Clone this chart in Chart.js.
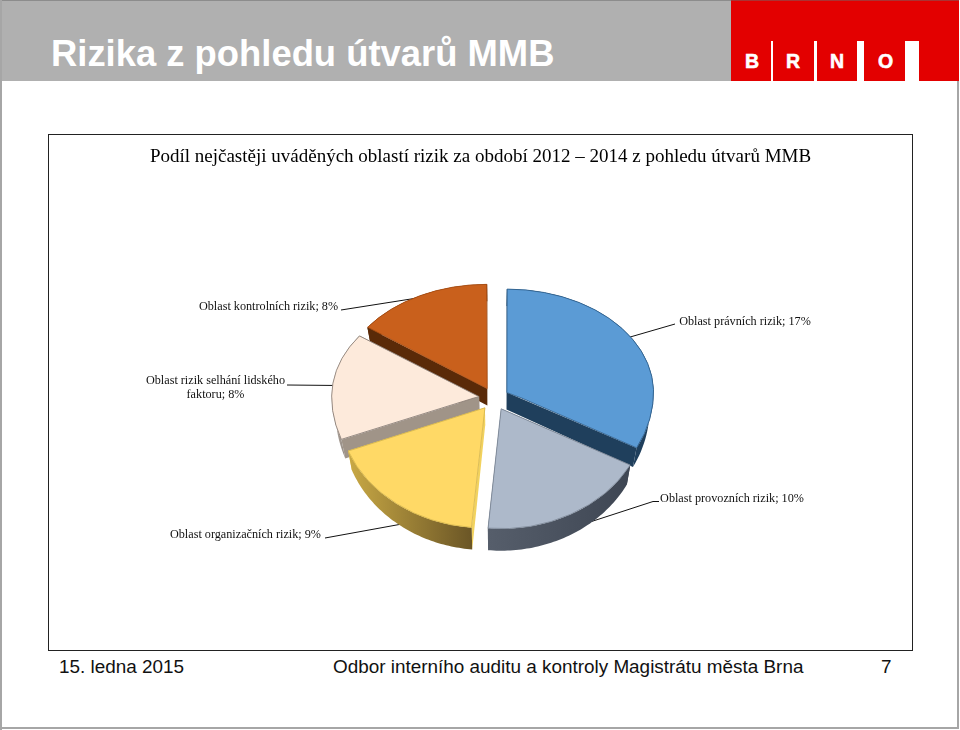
<!DOCTYPE html>
<html lang="cs">
<head>
<meta charset="utf-8">
<title>Rizika z pohledu útvarů MMB</title>
<script src="https://cdn.jsdelivr.net/npm/chart.js@4"></script>
<style>
    html, body { margin: 0; padding: 0; background: #fff; }
    #stranka { position: relative; width: 960px; height: 730px; overflow: hidden; background: #fff; }
    #stranka div { position: absolute; }
    #ramP { left: 0; top: 0; width: 2px; height: 730px; background: #a6a6a6; }
    #ramD { left: 0; top: 727px; width: 959px; height: 2px; background: #a6a6a6; }
    #ramK { left: 957px; top: 81px; width: 2px; height: 648px; background: #a6a6a6; }
    #hlavicka { left: 0; top: 0; width: 731px; height: 81px; background: #b0b0b0; border-top: 1px solid #8c8c8c; box-sizing: border-box; }
    #nadpis { left: 51px; top: 33px; font: bold 36.4px "Liberation Sans", Arial, sans-serif; color: #fff; white-space: nowrap; }
    #logo { left: 731px; top: 0; width: 228px; height: 81px; background: #e30000; border-top: 1px solid #a33; box-sizing: border-box; }
    .pruh { background: #fff; top: 41px; height: 40px; }
    .pismeno { top: 50px; font: bold 19.5px "Liberation Sans", Arial, sans-serif; color: #fff; -webkit-text-stroke: 0.6px #fff; }
    #ramec { left: 48px; top: 134px; width: 863px; height: 515px; border: 1px solid #222; }
    canvas { display: block; }
    .pata { top: 656px; font: 18.9px "Liberation Sans", Arial, sans-serif; color: #111; white-space: nowrap; }
</style>
</head>
<body>
<div id="stranka">
    <div id="hlavicka"></div>
    <div id="nadpis">Rizika z pohledu útvarů MMB</div>
    <div id="logo"></div>
    <div class="pruh" style="left:771px;width:2px"></div>
    <div class="pruh" style="left:814px;width:3px"></div>
    <div class="pruh" style="left:857px;width:7px"></div>
    <div class="pruh" style="left:905px;width:14px"></div>
    <div class="pismeno" style="left:745px">B</div>
    <div class="pismeno" style="left:786px">R</div>
    <div class="pismeno" style="left:830px">N</div>
    <div class="pismeno" style="left:878px">O</div>
    <div id="ramec"><canvas id="graf" width="863" height="515"></canvas></div>
    <div class="pata" style="left:59px">15. ledna 2015</div>
    <div class="pata" style="left:333px">Odbor interního auditu a kontroly Magistrátu města Brna</div>
    <div class="pata" style="left:881px">7</div>
    <div id="ramP"></div>
    <div id="ramK"></div>
    <div id="ramD"></div>
</div>
<script>
// --- Data grafu ---
const kategorie = [
    'Oblast právních rizik',
    'Oblast provozních rizik',
    'Oblast organizačních rizik',
    'Oblast rizik selhání lidského faktoru',
    'Oblast kontrolních rizik'
];
// odečteno z úhlů výsečí, popisky v originále ukazují zaokrouhlené hodnoty
const hodnoty = [17, 9.7, 9.2, 8.2, 7.8];
const titulek = 'Podíl nejčastěji uváděných oblastí rizik za období 2012 – 2014 z pohledu útvarů MMB';

// --- Barvy ---
const barvyVrch = ['#5b9bd5', '#adb9ca', '#ffd966', '#fdeadb', '#c9601c'];
const barvyOkraj = ['#2e5f8c', '#7f8a99', '#d8b850', '#8c8078', '#a84c12'];
const barvyRez = ['#1f3f5c', '#3f4855', '#f2d25e', '#a09488', '#5a2a08'];
const barvyPlastL = ['#1f3f5c', '#565e6b', '#c9a945', '#b8aea6', '#5a2a08'];
const barvyPlastP = ['#1f3f5c', '#3e4653', '#6b5626', '#6a625a', '#5a2a08'];

// --- Prostorový vzhled (koláč je vykreslen se sklonem) ---
const poradiKresleni = [4, 3, 0, 2, 1]; // zezadu dopředu
const sklonVzadu = 0.705;
const sklonVpredu = 0.82;
const sbihani = 0.975; // spodní hrana se v perspektivě zužuje
const posunX = 13.5; // titulek zůstává na středu rámečku
const ramecX = 49;
const ramecY = 135;

// --- Popisky: [index, střed x, y řádků, zalomení] v souřadnicích stránky ---
const popisky = [
    { i: 4, x: 268.5, y: [307] },
    { i: 0, x: 745, y: [322] },
    { i: 3, x: 215.5, y: [381, 395], zlom: 'Oblast rizik selhání lidského' },
    { i: 1, x: 732, y: [499] },
    { i: 2, x: 245.5, y: [535] }
];
// vodicí čáry končí pod koláčem, kreslí se před ním
const vodici = [
    [[341, 310], [430, 296]],
    [[625, 338.5], [675, 324]],
    [[287, 385], [340, 385.5]],
    [[659, 501.5], [653, 501.5], [590, 522]],
    [[325, 538], [402, 524]]
];

/**
 * Přepočet y z roviny koláče na obrazovku (zadní půlka je víc stlačená).
 */
function naObrazovku(y, stredY) {
    return stredY + (y - stredY) * (y < stredY ? sklonVzadu : sklonVpredu);
}

/**
 * Vykreslí boční stěny jednoho výseče podle úhlů z elementu Chart.js.
 */
function kresliStenu(ctx, arc, i) {
    const p = arc.getProps(['x', 'y', 'startAngle', 'endAngle', 'outerRadius', 'circumference']);
    const posun = (arc.options.offset || 0) / 4;
    const pul = (p.startAngle + p.endAngle) / 2;
    const cx = p.x + Math.cos(pul) * posun;
    const cy = p.y + Math.sin(pul) * posun;
    const r = p.outerRadius + posun * (1 - Math.sin(Math.min(Math.PI, p.circumference)));
    const osaX = p.x + posunX;
    const bod = (a) => [
        cx + r * Math.cos(a) + posunX,
        naObrazovku(cy + r * Math.sin(a), p.y)
    ];
    // spodní obrys: dopředu víc výšky, ke středu se zužuje
    const dole = (b) => [
        osaX + (b[0] - osaX) * sbihani,
        b[1] + 17 + Math.max(0, b[1] - p.y + 5) * 0.037
    ];
    const stred = [cx + posunX, naObrazovku(cy, p.y)];

    // radiální stěny
    ctx.fillStyle = barvyRez[i];
    [p.startAngle, p.endAngle].forEach(a => {
        const b = bod(a);
        const b2 = dole(b);
        const s2 = dole(stred);
        ctx.beginPath();
        ctx.moveTo(stred[0], stred[1]);
        ctx.lineTo(b[0], b[1]);
        ctx.lineTo(b2[0], b2[1]);
        ctx.lineTo(s2[0], s2[1]);
        ctx.closePath();
        ctx.fill();
    });

    // vnější plášť
    const body = [];
    const kroku = 60;
    for (let k = 0; k <= kroku; k++) {
        body.push(bod(p.startAngle + (p.endAngle - p.startAngle) * k / kroku));
    }
    const xs = body.map(b => b[0]);
    const gradient = ctx.createLinearGradient(Math.min(...xs), 0, Math.max(...xs), 0);
    gradient.addColorStop(0, barvyPlastL[i]);
    gradient.addColorStop(1, barvyPlastP[i]);
    ctx.fillStyle = gradient;
    ctx.beginPath();
    body.forEach((b, k) => k ? ctx.lineTo(b[0], b[1]) : ctx.moveTo(b[0], b[1]));
    body.slice().reverse().forEach(b => {
        const d = dole(b);
        ctx.lineTo(d[0], d[1]);
    });
    ctx.closePath();
    ctx.fill();
}

/**
 * Vykreslí horní plochu výseče: zadní a přední půlku zvlášť.
 */
function kresliVrch(ctx, chart, arc) {
    const yc = arc.y;
    [[0, yc, sklonVzadu], [yc, chart.height - yc, sklonVpredu]].forEach(([top, vyska, sklon]) => {
        ctx.save();
        ctx.beginPath();
        ctx.rect(0, top, chart.width, vyska);
        ctx.clip();
        ctx.translate(posunX, yc);
        ctx.scale(1, sklon);
        ctx.translate(0, -yc);
        arc.draw(ctx);
        ctx.restore();
    });
}

/**
 * Vodicí čáry od popisků k výsečím.
 */
function kresliVodici(ctx) {
    ctx.save();
    ctx.strokeStyle = '#111';
    ctx.lineWidth = 1;
    vodici.forEach(cara => {
        ctx.beginPath();
        cara.forEach((b, k) => {
            const x = b[0] - ramecX, y = b[1] - ramecY;
            k ? ctx.lineTo(x, y) : ctx.moveTo(x, y);
        });
        ctx.stroke();
    });
    ctx.restore();
}

const kolac3D = {
    id: 'kolac3D',
    beforeDatasetsDraw(chart) {
        const ctx = chart.ctx;
        const oblouky = chart.getDatasetMeta(0).data;
        kresliVodici(ctx);
        poradiKresleni.forEach(i => {
            kresliStenu(ctx, oblouky[i], i);
            kresliVrch(ctx, chart, oblouky[i]);
        });
        return false; // výchozí kreslení se přeskočí, pořadí je vlastní
    },
    afterDraw(chart) {
        const ctx = chart.ctx;
        ctx.save();
        ctx.fillStyle = '#111';
        ctx.font = '12.2px "Liberation Serif", "Times New Roman", serif';
        ctx.textAlign = 'center';
        ctx.textBaseline = 'middle';
        popisky.forEach(p => {
            const text = `${kategorie[p.i]}; ${Math.round(hodnoty[p.i])}%`;
            const radky = p.zlom ? [p.zlom, text.slice(p.zlom.length + 1)] : [text];
            radky.forEach((r, k) => ctx.fillText(r, p.x - ramecX, p.y[k] - ramecY));
        });
        ctx.restore();
    }
};

document.addEventListener('DOMContentLoaded', () => {
    new Chart(document.getElementById('graf'), {
        type: 'pie',
        data: {
            labels: kategorie,
            datasets: [{
                data: hodnoty,
                backgroundColor: barvyVrch,
                borderColor: barvyOkraj,
                borderWidth: 1,
                offset: 60
            }]
        },
        options: {
            responsive: false,
            animation: false,
            radius: 145,
            layout: { padding: { left: 0, right: 0, top: 0, bottom: 23 } },
            plugins: {
                legend: { display: false },
                tooltip: { enabled: false },
                title: {
                    display: true,
                    text: titulek,
                    color: '#000',
                    font: { family: '"Liberation Serif", "Times New Roman", serif', size: 19, weight: 'normal' },
                    padding: { top: 10.5, bottom: 0.7 }
                }
            }
        },
        plugins: [kolac3D]
    });
});
</script>
</body>
</html>
